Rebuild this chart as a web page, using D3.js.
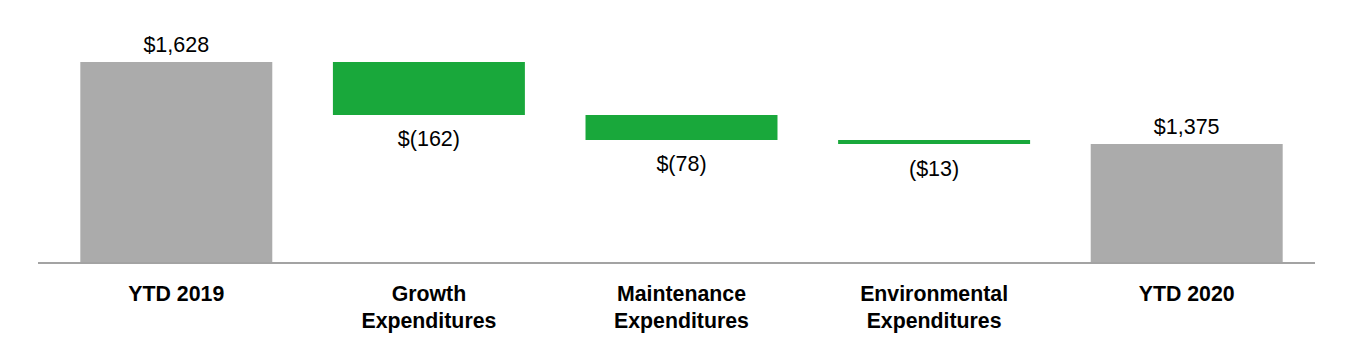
<!DOCTYPE html>
<html>
<head>
<meta charset="utf-8">
<script src="https://cdn.jsdelivr.net/npm/d3@7"></script>
<style>
  body { margin: 0; background: #fff; }
  text { font-family: "Liberation Sans", Arial, sans-serif; }
</style>
</head>
<body>
<div id="chart"></div>
<script>
var w = 1364, h = 350;

// data
var categories = ["YTD 2019", "Growth Expenditures", "Maintenance Expenditures", "Environmental Expenditures", "YTD 2020"];
var catLines = [["YTD 2019"], ["Growth", "Expenditures"], ["Maintenance", "Expenditures"], ["Environmental", "Expenditures"], ["YTD 2020"]];
var values = [1628, -162, -78, -13, 1375];
var isTotal = [true, false, false, false, true];
var valueLabels = ["$1,628", "$(162)", "$(78)", "($13)", "$1,375"];

var svg = d3.select("#chart").append("svg").attr("width", w).attr("height", h);

var x = d3.scaleBand().domain(categories).range([50, 1313]).paddingInner(0.24).paddingOuter(0.12);
var y = d3.scaleLinear().domain([1008, 1628]).range([263, 62]);
var base = y.domain()[0];

// running totals for waterfall
var running = 0, bars = [];
for (var i = 0; i < categories.length; i++) {
    var start, end;
    if (isTotal[i]) { start = base; end = values[i]; running = values[i]; }
    else { start = running; end = running + values[i]; running = end; }
    bars.push({ cat: categories[i], lo: Math.min(start, end), hi: Math.max(start, end), total: isTotal[i], label: valueLabels[i], lines: catLines[i] });
}

svg.selectAll("rect.bar").data(bars).enter().append("rect")
    .attr("class", "bar")
    .attr("x", function (d) { return x(d.cat); })
    .attr("width", x.bandwidth())
    .attr("y", function (d) { return Math.round(y(d.hi)); })
    .attr("height", function (d) { return Math.max(3, Math.round(y(d.lo)) - Math.round(y(d.hi))); })
    .attr("fill", function (d) { return d.total ? "#ababab" : "#19a83b"; });

// axis line
svg.append("line").attr("x1", 38).attr("x2", 1315).attr("y1", y(base)).attr("y2", y(base))
    .attr("stroke", "#a3a3a3").attr("stroke-width", 2);

// value labels
svg.selectAll("text.val").data(bars).enter().append("text")
    .attr("class", "val")
    .attr("x", function (d) { return x(d.cat) + x.bandwidth() / 2; })
    .attr("y", function (d) { return d.total ? y(d.hi) - 10.5 : y(d.lo) + 31.5; })
    .attr("text-anchor", "middle")
    .attr("font-size", "21.5px")
    .attr("fill", "#000")
    .text(function (d) { return d.label; });

// category labels
var cats = svg.selectAll("text.cat").data(bars).enter().append("text")
    .attr("class", "cat")
    .attr("x", function (d) { return x(d.cat) + x.bandwidth() / 2; })
    .attr("y", 300.5)
    .attr("text-anchor", "middle")
    .attr("font-size", "21.3px")
    .attr("font-weight", "bold")
    .attr("fill", "#000");
cats.each(function (d) {
    var t = d3.select(this);
    d.lines.forEach(function (ln, k) {
        t.append("tspan").attr("x", x(d.cat) + x.bandwidth() / 2).attr("dy", k === 0 ? 0 : 27.5).text(ln);
    });
});
</script>
</body>
</html>
